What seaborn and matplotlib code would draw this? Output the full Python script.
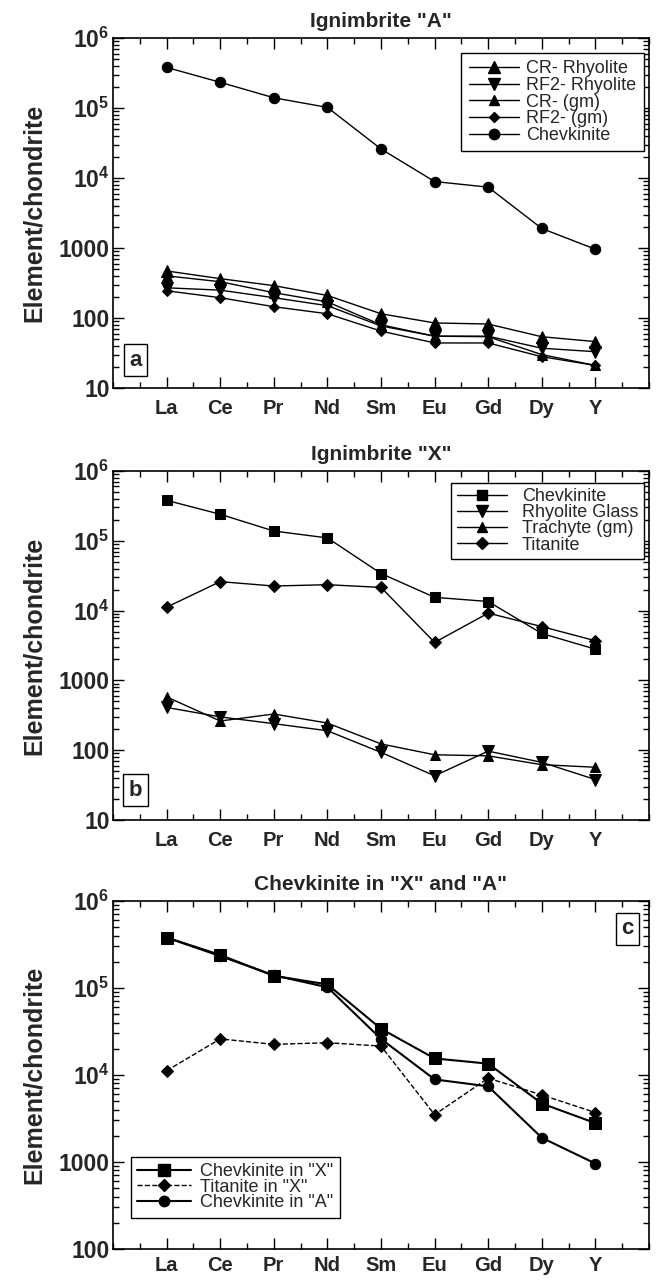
import numpy as np
import pandas as pd
import matplotlib
matplotlib.use("Agg")
import matplotlib.pyplot as plt
import seaborn as sns
from matplotlib.ticker import FixedLocator, FixedFormatter, LogLocator, NullFormatter, MultipleLocator
from matplotlib.lines import Line2D

# ---------------- data ----------------
elements = ["La", "Ce", "Pr", "Nd", "Sm", "Eu", "Gd", "Dy", "Y"]

# panel a : Ignimbrite "A"
a_cr_rhyolite = [470, 365, 290, 210, 115, 85, 82, 54, 46]
a_rf2_rhyolite = [270, 250, 195, 150, 77, 55, 55, 37, 33]
a_cr_gm = [400, 330, 230, 170, 80, 55, 54, 30, 21]
a_rf2_gm = [245, 195, 145, 115, 65, 44, 44, 28, 21]
chevkinite_A = [3.8e5, 2.33e5, 1.4e5, 1.02e5, 2.6e4, 8.9e3, 7.4e3, 1.9e3, 960]

# panel b : Ignimbrite "X"
chevkinite_X = [3.8e5, 2.4e5, 1.38e5, 1.1e5, 3.4e4, 1.55e4, 1.35e4, 4.7e3, 2.8e3]
rhyolite_glass = [410, 300, 240, 190, 93, 43, 97, 67, 38]
trachyte_gm = [580, 262, 330, 245, 123, 86, 83, 62, 57]
titanite_X = [1.12e4, 2.6e4, 2.25e4, 2.35e4, 2.15e4, 3.5e3, 9.2e3, 5.9e3, 3.7e3]

a_ticks = [10, 100, 1000, 1e4, 1e5, 1e6]
a_ticklabels = ["10", "100", "1000", r"$10^4$", r"$10^5$", r"$10^6$"]
c_ticks = [100, 1000, 1e4, 1e5, 1e6]
c_ticklabels = ["100", "1000", r"$10^4$", r"$10^5$", r"$10^6$"]

titles = ['Ignimbrite "A"', 'Ignimbrite "X"', 'Chevkinite in "X" and "A"']

# ---------------- style ----------------
sns.set_theme(style="ticks")
plt.rcParams["font.family"] = ["Liberation Sans", "DejaVu Sans"]
plt.rcParams["mathtext.fontset"] = "custom"
plt.rcParams["mathtext.rm"] = "Liberation Sans:bold"
plt.rcParams["mathtext.bf"] = "Liberation Sans:bold"
plt.rcParams["mathtext.it"] = "Liberation Sans:bold"
plt.rcParams["mathtext.default"] = "rm"

W, H = 667, 1281
fig = plt.figure(figsize=(W / 100, H / 100), dpi=100)

xpos = np.arange(1, len(elements) + 1)


def make_axes(top_px, bottom_px):
    left_px, right_px = 113, 649
    return fig.add_axes([left_px / W, 1 - bottom_px / H,
                         (right_px - left_px) / W, (bottom_px - top_px) / H])


def style_axes(ax, ylim, ticks, ticklabels, title, xpad=8):
    ax.set_yscale("log")
    ax.set_ylim(*ylim)
    ax.set_xlim(0, 10)
    ax.xaxis.set_major_locator(FixedLocator(list(xpos)))
    ax.xaxis.set_major_formatter(FixedFormatter(elements))
    ax.xaxis.set_minor_locator(MultipleLocator(0.5))
    ax.yaxis.set_major_locator(FixedLocator(ticks))
    ax.yaxis.set_major_formatter(FixedFormatter(ticklabels))
    ax.yaxis.set_minor_locator(LogLocator(base=10, subs=np.arange(2, 10)))
    ax.yaxis.set_minor_formatter(NullFormatter())
    ax.tick_params(which="both", direction="in", top=True, right=True,
                   color="black", width=1.0)
    ax.tick_params(which="major", length=8)
    ax.tick_params(which="minor", length=4)
    ax.tick_params(axis="x", which="major", labelsize=14.5, pad=xpad)
    ax.tick_params(axis="y", which="major", labelsize=16.5, pad=2.5)
    for lab in ax.get_xticklabels() + ax.get_yticklabels():
        lab.set_fontweight("bold")
    for s in ax.spines.values():
        s.set_color("black")
        s.set_linewidth(1.2)
    ax.set_ylabel("Element/chondrite", fontsize=18, fontweight="bold", labelpad=9)
    ax.set_xlabel("")
    ax.set_title(title, fontsize=15, fontweight="bold", pad=8)
    ax.set_facecolor("white")


def draw(ax, values, marker, ms, lw=1.0, ls="-"):
    df = pd.DataFrame({"x": xpos, "y": values})
    sns.lineplot(data=df, x="x", y="y", ax=ax, color="black", marker=marker,
                 markersize=ms, markeredgecolor="black", markerfacecolor="black",
                 linewidth=lw, linestyle=ls, legend=False)
    return Line2D([], [], color="black", marker=marker, markersize=ms,
                  linewidth=lw, linestyle=ls, markerfacecolor="black",
                  markeredgecolor="black")


def legend(ax, handles, labels, loc, anchor, fs, spacing, textpad, bpad, hlen=2.8):
    leg = ax.legend(handles, labels, loc=loc, bbox_to_anchor=anchor,
                    fontsize=fs, frameon=True, fancybox=False, shadow=False,
                    handlelength=hlen, handletextpad=textpad, labelspacing=spacing,
                    borderpad=bpad, borderaxespad=0.0)
    fr = leg.get_frame()
    fr.set_edgecolor("black")
    fr.set_linewidth(1.0)
    fr.set_facecolor("white")
    fr.set_alpha(1)
    return leg


def panel_label(ax, text, x, y):
    ax.text(x, y, text, transform=ax.transAxes, fontsize=16, fontweight="bold",
            ha="center", va="center",
            bbox=dict(boxstyle="square,pad=0.25", facecolor="white",
                      edgecolor="black", linewidth=1.0))


# ---------------- panel a ----------------
ax_a = make_axes(38, 388)
h1 = draw(ax_a, a_cr_rhyolite, "^", 8.5)
h2 = draw(ax_a, a_rf2_rhyolite, "v", 8.5)
h3 = draw(ax_a, a_cr_gm, "^", 6.5)
h4 = draw(ax_a, a_rf2_gm, "D", 5.5)
h5 = draw(ax_a, chevkinite_A, "o", 7.5)
style_axes(ax_a, (10, 1e6), a_ticks, a_ticklabels, titles[0])
legend(ax_a, [h1, h2, h3, h4, h5],
       ["CR- Rhyolite", "RF2- Rhyolite", "CR- (gm)", "RF2- (gm)", "Chevkinite"],
       "upper right", (0.99, 0.957), 13, -0.02, 0.4, 0.4)
panel_label(ax_a, "a", 0.042, 0.08)

# ---------------- panel b ----------------
ax_b = make_axes(471, 820)
g1 = draw(ax_b, chevkinite_X, "s", 7)
g2 = draw(ax_b, rhyolite_glass, "v", 8.5)
g3 = draw(ax_b, trachyte_gm, "^", 7)
g4 = draw(ax_b, titanite_X, "D", 6.5)
style_axes(ax_b, (10, 1e6), a_ticks, a_ticklabels, titles[1])
legend(ax_b, [g1, g2, g3, g4],
       ["Chevkinite", "Rhyolite Glass", "Trachyte (gm)", "Titanite"],
       "upper right", (0.99, 0.966), 13, -0.05, 0.8, 0.3)
panel_label(ax_b, "b", 0.042, 0.085)

# ---------------- panel c ----------------
ax_c = make_axes(901, 1249)
k1 = draw(ax_c, chevkinite_X, "s", 8.5, lw=1.5)
k2 = draw(ax_c, titanite_X, "D", 6.5, lw=1.0, ls="--")
k3 = draw(ax_c, chevkinite_A, "o", 7.5, lw=1.5)
style_axes(ax_c, (100, 1e6), c_ticks, c_ticklabels, titles[2], xpad=5)
legend(ax_c, [k1, k2, k3],
       ['Chevkinite in "X"', 'Titanite in "X"', 'Chevkinite in "A"'],
       "lower left", (0.033, 0.09), 13, -0.08, 0.5, 0.35, hlen=3.0)
panel_label(ax_c, "c", 0.96, 0.92)

fig.savefig("out.png", dpi=100, facecolor="white")
